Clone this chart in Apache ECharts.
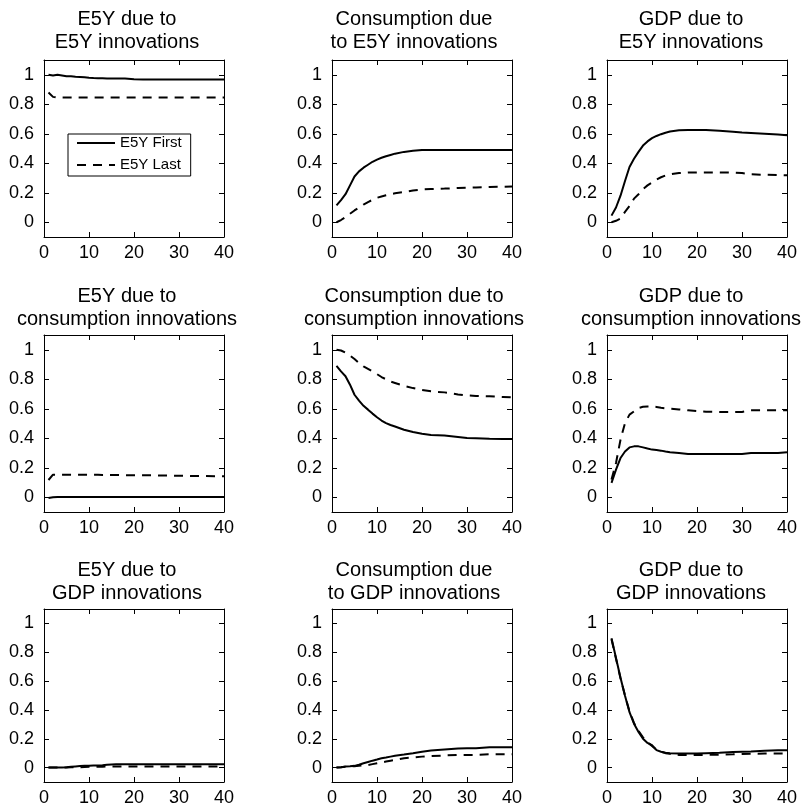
<!DOCTYPE html>
<html>
<head>
<meta charset="utf-8">
<script src="https://cdn.jsdelivr.net/npm/echarts@6/dist/echarts.min.js"></script>
<style>
html,body{margin:0;padding:0;background:#fff;}
#chart{width:802px;height:807px;}
</style>
</head>
<body>
<div id="chart"></div>
<script>
// Forecast horizons (x values shared by all panels)
const periods = [1,2,3,4,5,6,7,8,9,10,11,12,13,14,16,18,20,22,25,28,30,32,35,38,40];
const xTicks = [0,10,20,30,40];
const yTicks = [0,0.2,0.4,0.6,0.8,1];
const seriesNames = ['E5Y First','E5Y Last'];

const panelTitles = [
  'E5Y due to\nE5Y innovations',
  'Consumption due\nto E5Y innovations',
  'GDP due to\nE5Y innovations',
  'E5Y due to\nconsumption innovations',
  'Consumption due to\nconsumption innovations',
  'GDP due to\nconsumption innovations',
  'E5Y due to\nGDP innovations',
  'Consumption due\nto GDP innovations',
  'GDP due to\nGDP innovations'
];

// Row 1: E5Y innovations
const e5yE5yFirst = [1.0,0.995,1.0,0.995,0.99,0.99,0.987,0.985,0.983,0.98,0.978,0.977,0.976,0.975,0.975,0.974,0.97,0.968,0.968,0.968,0.968,0.967,0.967,0.967,0.967];
const e5yE5yLast  = [0.88,0.85,0.845,0.845,0.845,0.845,0.845,0.845,0.845,0.845,0.845,0.845,0.845,0.845,0.845,0.845,0.845,0.845,0.845,0.845,0.845,0.845,0.845,0.845,0.845];
const consE5yFirst = [0.115,0.15,0.19,0.25,0.31,0.345,0.37,0.39,0.41,0.425,0.437,0.447,0.456,0.465,0.477,0.484,0.49,0.49,0.49,0.49,0.49,0.49,0.49,0.49,0.49];
const consE5yLast  = [0.0,0.015,0.035,0.058,0.08,0.1,0.12,0.137,0.152,0.166,0.175,0.183,0.19,0.196,0.205,0.215,0.222,0.225,0.228,0.232,0.234,0.236,0.239,0.241,0.243];
const gdpE5yFirst = [0.045,0.1,0.18,0.28,0.375,0.43,0.477,0.52,0.548,0.57,0.585,0.597,0.607,0.615,0.623,0.625,0.625,0.625,0.62,0.613,0.608,0.605,0.6,0.595,0.59];
const gdpE5yLast  = [0.0,0.01,0.025,0.07,0.11,0.16,0.19,0.225,0.25,0.27,0.29,0.305,0.317,0.325,0.334,0.337,0.338,0.338,0.338,0.337,0.334,0.325,0.322,0.32,0.318];

// Row 2: consumption innovations
const e5yConsFirst = [-0.005,0.0,0.002,0.002,0.002,0.002,0.002,0.002,0.002,0.002,0.002,0.002,0.002,0.002,0.002,0.002,0.002,0.002,0.002,0.002,0.002,0.002,0.002,0.002,0.002];
const e5yConsLast  = [0.117,0.153,0.153,0.153,0.153,0.153,0.153,0.153,0.153,0.152,0.152,0.152,0.151,0.151,0.151,0.15,0.15,0.149,0.148,0.147,0.146,0.145,0.144,0.143,0.143];
const consConsFirst = [0.89,0.853,0.82,0.763,0.695,0.655,0.62,0.594,0.567,0.542,0.52,0.503,0.49,0.48,0.458,0.442,0.43,0.422,0.418,0.409,0.402,0.4,0.397,0.395,0.395];
const consConsLast  = [1.0,0.995,0.98,0.96,0.937,0.91,0.887,0.87,0.853,0.835,0.815,0.8,0.785,0.775,0.755,0.74,0.727,0.718,0.711,0.697,0.69,0.687,0.684,0.68,0.677];
const gdpConsFirst = [0.097,0.187,0.266,0.31,0.338,0.345,0.345,0.338,0.33,0.323,0.32,0.316,0.31,0.305,0.3,0.293,0.293,0.293,0.293,0.293,0.293,0.3,0.3,0.3,0.305];
const gdpConsLast  = [0.12,0.232,0.39,0.503,0.56,0.582,0.605,0.613,0.616,0.616,0.612,0.607,0.603,0.6,0.595,0.589,0.585,0.58,0.578,0.578,0.578,0.589,0.589,0.589,0.589];

// Row 3: GDP innovations
const e5yGdpFirst = [0.0,0.0,0.0,0.0,0.002,0.005,0.008,0.011,0.012,0.013,0.014,0.015,0.016,0.02,0.023,0.023,0.023,0.023,0.023,0.023,0.023,0.023,0.023,0.023,0.023];
const e5yGdpLast  = [0.0,0.0,0.0,0.0,0.001,0.002,0.002,0.003,0.004,0.005,0.005,0.006,0.006,0.007,0.008,0.008,0.008,0.008,0.008,0.008,0.008,0.008,0.008,0.008,0.008];
const consGdpFirst = [0.0,0.003,0.007,0.009,0.012,0.02,0.03,0.039,0.048,0.056,0.065,0.07,0.076,0.082,0.09,0.099,0.11,0.118,0.125,0.132,0.134,0.134,0.141,0.141,0.141];
const consGdpLast  = [0.0,0.002,0.005,0.007,0.01,0.012,0.015,0.018,0.024,0.03,0.036,0.042,0.048,0.053,0.065,0.07,0.076,0.08,0.084,0.088,0.088,0.088,0.092,0.092,0.092];
const gdpGdpFirst = [0.897,0.76,0.623,0.498,0.384,0.304,0.247,0.2,0.171,0.155,0.121,0.11,0.103,0.1,0.098,0.098,0.098,0.1,0.103,0.108,0.11,0.112,0.116,0.12,0.121];
const gdpGdpLast  = [0.89,0.755,0.62,0.5,0.39,0.31,0.255,0.21,0.175,0.15,0.125,0.11,0.1,0.095,0.088,0.087,0.087,0.088,0.09,0.092,0.095,0.096,0.097,0.097,0.097];

const panelFirst = [e5yE5yFirst, consE5yFirst, gdpE5yFirst, e5yConsFirst, consConsFirst, gdpConsFirst, e5yGdpFirst, consGdpFirst, gdpGdpFirst];
const panelLast  = [e5yE5yLast, consE5yLast, gdpE5yLast, e5yConsLast, consConsLast, gdpConsLast, e5yGdpLast, consGdpLast, gdpGdpLast];

// Layout
const colLeft = [44, 332, 607];
const rowTop = [60, 335, 609];
const boxW = 180, boxH = 177;
const titleCenter = [127, 414, 691];
const titleTop = [8, 285, 559];
const FONT = '"Liberation Sans", Arial, Helvetica, sans-serif';

const chart = echarts.init(document.getElementById('chart'), null, {renderer: 'canvas'});

const grid = [], xAxis = [], yAxis = [], series = [], title = [];
const lineAxis = {show: true, onZero: false, lineStyle: {color: '#000', width: 1}};
const tickStyle = {show: true, inside: true, length: 5, lineStyle: {color: '#000', width: 1}};

for (let i = 0; i < 9; i++) {
  const r = Math.floor(i / 3), c = i % 3;
  grid.push({left: colLeft[c], top: rowTop[r], width: boxW, height: boxH, containLabel: false});
  title.push({
    text: panelTitles[i], left: titleCenter[c], top: titleTop[r], textAlign: 'center', padding: 0,
    textStyle: {fontFamily: FONT, fontSize: 20, fontWeight: 'normal', color: '#000', lineHeight: 23}
  });
  const xBase = {type: 'value', gridIndex: i, min: 0, max: 40, interval: 10, splitLine: {show: false}, axisLine: lineAxis, axisTick: tickStyle};
  xAxis.push(Object.assign({}, xBase, {position: 'bottom',
    axisLabel: {show: true, margin: 7, fontFamily: FONT, fontSize: 18, color: '#000'}}));
  xAxis.push(Object.assign({}, xBase, {position: 'top', axisLabel: {show: false}}));
  const yBase = {type: 'value', gridIndex: i, min: -0.1, max: 1.1, splitLine: {show: false}, axisLine: lineAxis,
    axisTick: Object.assign({}, tickStyle, {customValues: yTicks})};
  yAxis.push(Object.assign({}, yBase, {position: 'left',
    axisLabel: {show: true, margin: 10, fontFamily: FONT, fontSize: 18, color: '#000', customValues: yTicks}}));
  yAxis.push(Object.assign({}, yBase, {position: 'right', axisLabel: {show: false, customValues: yTicks}}));

  series.push({
    name: seriesNames[0], type: 'line', xAxisIndex: 2 * i, yAxisIndex: 2 * i,
    data: periods.map((p, k) => [p, panelFirst[i][k]]),
    symbol: 'none', showSymbol: false, animation: false,
    lineStyle: {color: '#000', width: 2, type: 'solid'}, itemStyle: {color: '#000'}
  });
  series.push({
    name: seriesNames[1], type: 'line', xAxisIndex: 2 * i, yAxisIndex: 2 * i,
    data: periods.map((p, k) => [p, panelLast[i][k]]),
    symbol: 'none', showSymbol: false, animation: false,
    lineStyle: {color: '#000', width: 2, type: [9, 7]}, itemStyle: {color: '#000'}
  });
}

chart.setOption({
  backgroundColor: '#fff',
  animation: false,
  title: title,
  legend: {
    data: seriesNames, orient: 'vertical', left: 68, top: 134,
    padding: [1, 9, 3, 8], itemWidth: 38, itemHeight: 14, itemGap: 6,
    borderColor: '#000', borderWidth: 1, backgroundColor: '#fff',
    itemStyle: {color: 'rgba(0,0,0,0)', borderWidth: 0, opacity: 0},
    textStyle: {fontFamily: FONT, fontSize: 15, color: '#000', lineHeight: 16},
    selectedMode: false
  },
  grid: grid, xAxis: xAxis, yAxis: yAxis, series: series
});
</script>
</body>
</html>
